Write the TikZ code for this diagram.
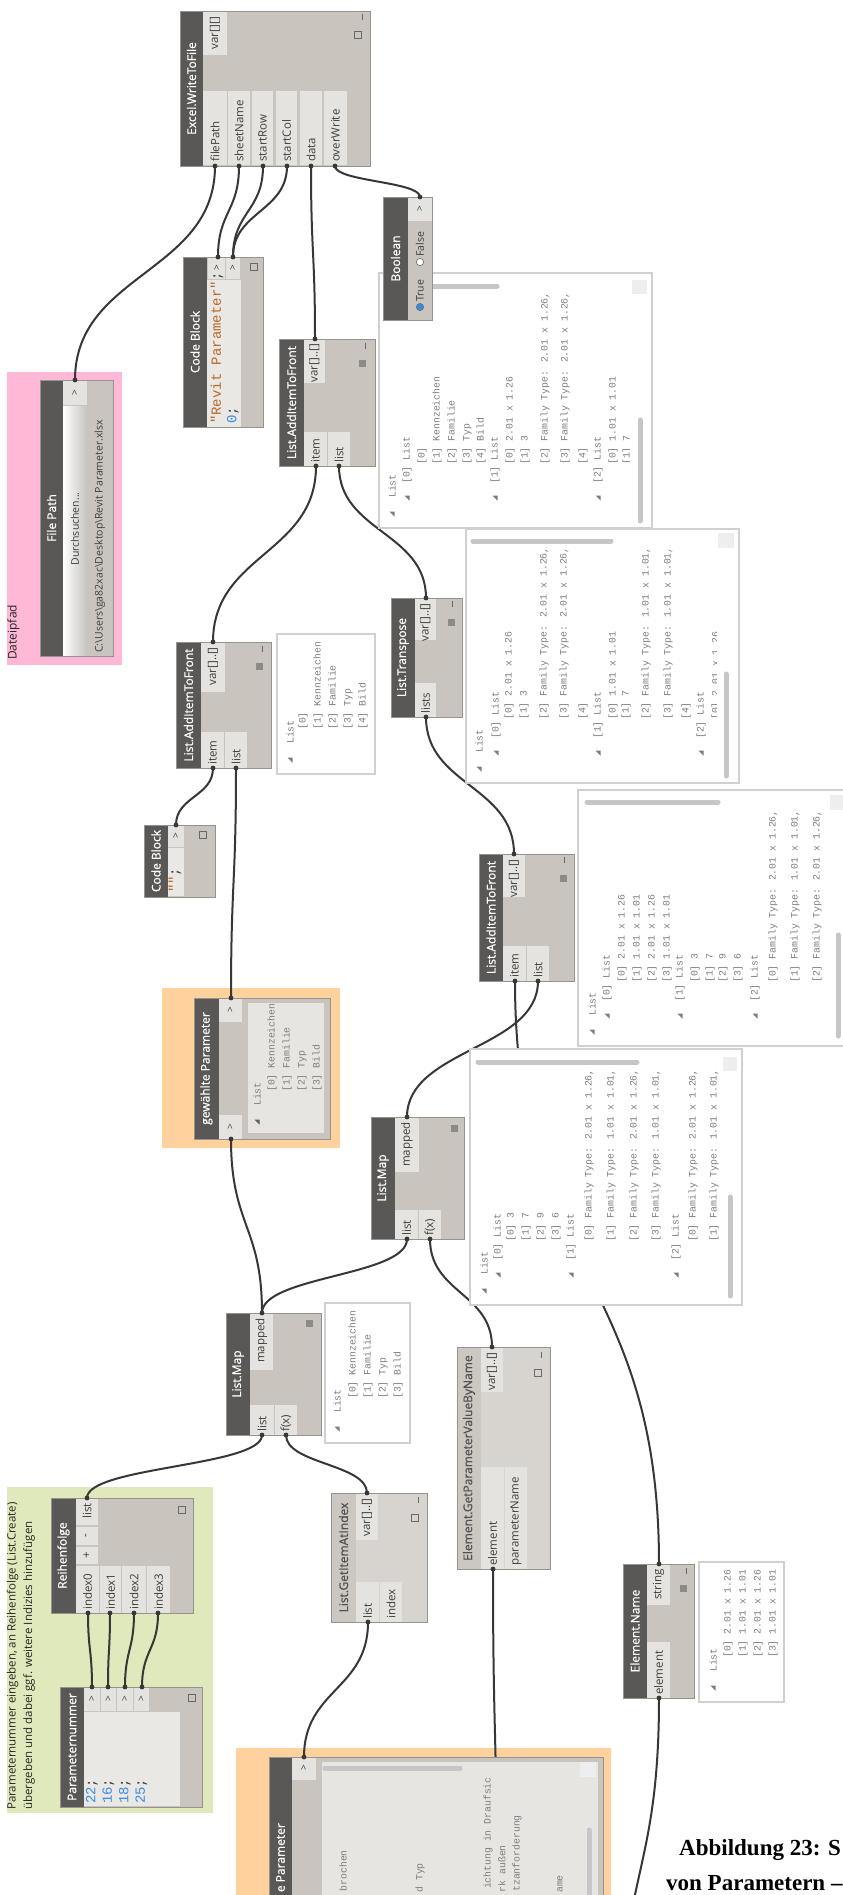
\documentclass[tikz,border=0pt]{standalone}
\usepackage{fontspec}
\setmainfont{Open Sans}
\newfontfamily\titlef[FakeBold=0.6]{Open Sans}
\newfontfamily\monof{Liberation Mono}
\newfontfamily\capf{Liberation Serif}
\usetikzlibrary{calc}

\definecolor{headc}{RGB}{90,88,86}
\definecolor{bodyc}{RGB}{201,197,190}
\definecolor{portc}{RGB}{229,227,223}
\definecolor{codec}{RGB}{234,232,229}
\definecolor{bordc}{RGB}{150,147,142}
\definecolor{lhead}{RGB}{204,200,193}
\definecolor{lbody}{RGB}{215,212,207}
\definecolor{ltext}{RGB}{80,80,80}
\definecolor{labc}{RGB}{62,62,62}
\definecolor{watchc}{RGB}{125,125,125}
\definecolor{inwtext}{RGB}{95,95,95}
\definecolor{bubc}{RGB}{208,208,208}
\definecolor{scrc}{RGB}{198,198,198}
\definecolor{sqlc}{RGB}{238,238,238}
\definecolor{wirec}{RGB}{55,55,55}
\definecolor{icong}{RGB}{105,105,105}
\definecolor{sqfc}{RGB}{140,138,135}
\definecolor{pinkg}{RGB}{255,184,214}
\definecolor{orangeg}{RGB}{255,209,156}
\definecolor{greeng}{RGB}{223,233,187}
\definecolor{inwatch}{RGB}{231,229,226}
\definecolor{strc}{RGB}{186,104,40}
\definecolor{numc}{RGB}{55,140,230}
\definecolor{btnc}{RGB}{198,196,191}

\newcommand\tfont{\titlef\fontsize{12}{14}\selectfont}
\newcommand\pfont{\fontsize{11.5}{13}\selectfont}
\newcommand\wfont{\monof\fontsize{9.8}{11}\selectfont}
\newcommand\cfont{\monof\fontsize{14}{16}\selectfont}

\tikzset{
  nbody/.style={fill=bodyc, inner sep=0, outer sep=0},
  lnbody/.style={fill=lbody, inner sep=0, outer sep=0},
  nborder/.style={draw=bordc, line width=0.9},
  ntitle/.style={rotate=90, text=white, font=\tfont, inner sep=0},
  ltitle/.style={rotate=90, text=ltext, font=\tfont, inner sep=0},
  plabel/.style={rotate=90, text=labc, font=\pfont, inner sep=0},
  wtxt/.style={rotate=90, anchor=west, text=watchc, font=\wfont, inner sep=0},
  ctxt/.style={rotate=90, anchor=west, text=labc, font=\cfont, inner sep=0},
  bubble/.style={fill=white, draw=bubc, line width=1.1},
  wire/.style={draw=wirec, line width=2},
  thumb/.style={draw=scrc, line width=5, line cap=round},
  gtxt/.style={rotate=90, anchor=west, text=black!85, font=\pfont, inner sep=0},
  capt/.style={anchor=base west, inner sep=0, font=\capf\bfseries\fontsize{23}{27}\selectfont},
}

% Dynamo node: name, x1, y1, x2, y2, right edge of the header strip
\newcommand\dnode[6]{%
  \node[nbody, anchor=north west, minimum width={(#4)-(#2)}, minimum height={(#5)-(#3)}] (#1) at (#2,#3) {};
  \fill[headc] (#2,#3) rectangle (#6,#5);}
\newcommand\dnodel[6]{%
  \node[lnbody, anchor=north west, minimum width={(#4)-(#2)}, minimum height={(#5)-(#3)}] (#1) at (#2,#3) {};
  \fill[lhead] (#2,#3) rectangle (#6,#5);}
\newcommand\dend[1]{\draw[nborder] (#1.north west) rectangle (#1.south east);}
\newcommand\pbox[4]{\fill[portc] (#1,#2) rectangle (#3,#4);}
\newcommand\pinl[3]{\node[plabel, anchor=west] at (#1,#2) {#3};}
\newcommand\poutl[3]{\node[plabel, anchor=east] at (#1,#2) {#3};}
\newcommand\pchev[2]{\node[plabel, font=\fontsize{10}{12}\selectfont] at (#1,#2) {>};}
\newcommand\ticon[2]{\draw[icong, line width=1] (#1,#2-3) -- (#1,#2+3);}
\newcommand\sqf[2]{\fill[sqfc] (#1-3.5,#2-3.5) rectangle (#1+3.5,#2+3.5);}
\newcommand\sqo[2]{\draw[icong, line width=0.8] (#1-3.5,#2-3.5) rectangle (#1+3.5,#2+3.5);}
% watch lines and tree expanders
\newcommand\wl[3]{\node[wtxt] at (#1,#2) {#3};}
\newcommand\wx[2]{\fill[watchc] (#1-2.5,#2-2.5) -- (#1+2.5,#2-2.5) -- (#1+2.5,#2+2.5) -- cycle;}
% wire from an output port (below) up to an input port
\newcommand\dwire[2]{\path ($(#1)!0.5!(#2)$) coordinate (wm);
  \draw[wire] (#1) .. controls (#1 |- wm) and (#2 |- wm) .. (#2);}
\newcommand\pdot[1]{\fill[wirec] (#1) circle[radius=2.4pt];}

\begin{document}
\begin{tikzpicture}[x=1pt,y=-1pt]
\useasboundingbox (0,0) rectangle (843,1895);
\begin{scope}
\clip (0,0) rectangle (843,1895);
\fill[white] (0,0) rectangle (843,1895);

% ---------- groups ----------
\fill[pinkg] (7,372) rectangle (122,665);
\node[gtxt, font=\fontsize{12}{14}\selectfont] at (13.5,660) {Dateipfad};
\fill[orangeg] (162,988) rectangle (340,1148);
\fill[greeng] (7,1487) rectangle (213,1813);
\node[gtxt] at (12.5,1810) {Parameternummer eingeben, an Reihenfolge (List.Create)};
\node[gtxt] at (29,1810) {übergeben und dabei ggf. weitere Indizies hinzufügen};
\fill[orangeg] (236,1748) rectangle (611,1900);

% ---------- port coordinates ----------
\coordinate (ex-fp) at (215,166);
\coordinate (ex-sn) at (239,166);
\coordinate (ex-sr) at (263,166);
\coordinate (ex-sc) at (287,166);
\coordinate (ex-da) at (311,166);
\coordinate (ex-ow) at (335,166);
\coordinate (cbr-o1) at (218,257);
\coordinate (cbr-o2) at (233,257);
\coordinate (bool-o) at (420,197);
\coordinate (adda-o) at (315,339);
\coordinate (adda-it) at (316,466);
\coordinate (adda-li) at (339,466);
\coordinate (fpath-o) at (75,380);
\coordinate (addb-o) at (213,642);
\coordinate (addb-it) at (213,768);
\coordinate (addb-li) at (236,768);
\coordinate (cbs-o) at (176,825);
\coordinate (trans-o) at (426,598);
\coordinate (trans-li) at (426,717);
\coordinate (addc-o) at (514,854);
\coordinate (addc-it) at (515,981);
\coordinate (addc-li) at (538,981);
\coordinate (gew-o) at (231,998);
\coordinate (gew-i) at (231,1139);
\coordinate (mapu-o) at (407,1117);
\coordinate (mapu-li) at (407,1239);
\coordinate (mapu-f) at (430,1239);
\coordinate (gpar-o) at (492,1347);
\coordinate (gpar-el) at (493,1569);
\coordinate (mapl-o) at (262,1313);
\coordinate (mapl-li) at (262,1435);
\coordinate (mapl-f) at (286,1435);
\coordinate (reih-o) at (87,1498);
\coordinate (reih-i0) at (88,1613);
\coordinate (reih-i1) at (110,1613);
\coordinate (reih-i2) at (134,1613);
\coordinate (reih-i3) at (158,1613);
\coordinate (pnum-o0) at (92,1687);
\coordinate (pnum-o1) at (108,1687);
\coordinate (pnum-o2) at (125,1687);
\coordinate (pnum-o3) at (142,1687);
\coordinate (gidx-o) at (367,1493);
\coordinate (gidx-li) at (368,1622);
\coordinate (epar-o) at (304,1757);
\coordinate (epar-far) at (497,1900);
\coordinate (ename-o) at (659,1564);
\coordinate (ename-el) at (659,1698);
\coordinate (far-src) at (620,2050);

% ---------- wires ----------
\dwire{fpath-o}{ex-fp}
\dwire{cbr-o1}{ex-sn}
\dwire{cbr-o2}{ex-sr}
\dwire{cbr-o2}{ex-sc}
\dwire{adda-o}{ex-da}
\dwire{bool-o}{ex-ow}
\dwire{addb-o}{adda-it}
\dwire{trans-o}{adda-li}
\dwire{cbs-o}{addb-it}
\dwire{gew-o}{addb-li}
\dwire{addc-o}{trans-li}
\dwire{mapl-o}{gew-i}
\dwire{mapl-o}{mapu-li}
\dwire{mapu-o}{addc-li}
\dwire{ename-o}{addc-it}
\dwire{gpar-o}{mapu-f}
\dwire{reih-o}{mapl-li}
\dwire{gidx-o}{mapl-f}
\dwire{pnum-o0}{reih-i0}
\dwire{pnum-o1}{reih-i1}
\dwire{pnum-o2}{reih-i2}
\dwire{pnum-o3}{reih-i3}
\dwire{epar-o}{gidx-li}
\dwire{epar-far}{gpar-el}
\dwire{far-src}{ename-el}

% ---------- watch bubbles ----------
% AddItemToFront (top)
\draw[bubble] (379,273) rectangle (652,528);
\begin{scope}
\clip (381,275) rectangle (629,526);
\wx{392}{514}\wl{392}{498}{List}
\wx{407}{498}\wl{407}{484}{[0] List}
\wl{422}{465}{[0]}
\wl{437}{465}{[1] Kennzeichen}
\wl{452}{465}{[2] Familie}
\wl{467}{465}{[3] Typ}
\wl{481}{465}{[4] Bild}
\wx{495}{498}\wl{495}{484}{[1] List}
\wl{510}{465}{[0] 2.01 x 1.26}
\wl{525}{465}{[1] 3}
\wl{545}{465}{[2] Family Type: 2.01 x 1.26,}
\wl{565}{465}{[3] Family Type: 2.01 x 1.26,}
\wl{583}{465}{[4]}
\wx{598}{498}\wl{598}{484}{[2] List}
\wl{613}{465}{[0] 1.01 x 1.01}
\wl{627}{465}{[1] 7}
\end{scope}
\draw[thumb] (395,286) -- (497,286);
\draw[thumb] (640,420) -- (640,521);
\fill[sqlc] (632,280) rectangle (647,294);

% AddItemToFront (middle)
\draw[bubble] (277,634) rectangle (375,774);
\wx{290}{760}\wl{290}{744}{List}
\wl{303}{730}{[0]}
\wl{318}{730}{[1] Kennzeichen}
\wl{333}{730}{[2] Familie}
\wl{348}{730}{[3] Typ}
\wl{363}{730}{[4] Bild}

% List.Transpose
\draw[bubble] (466,529) rectangle (739,783);
\begin{scope}
\clip (468,531) rectangle (716,781);
\wx{479}{769}\wl{479}{753}{List}
\wx{496}{753}\wl{496}{739}{[0] List}
\wl{509}{720}{[0] 2.01 x 1.26}
\wl{524}{720}{[1] 3}
\wl{544}{720}{[2] Family Type: 2.01 x 1.26,}
\wl{564}{720}{[3] Family Type: 2.01 x 1.26,}
\wl{583}{720}{[4]}
\wx{598}{753}\wl{598}{739}{[1] List}
\wl{613}{720}{[0] 1.01 x 1.01}
\wl{626}{720}{[1] 7}
\wl{646}{720}{[2] Family Type: 1.01 x 1.01,}
\wl{668}{720}{[3] Family Type: 1.01 x 1.01,}
\wl{686}{720}{[4]}
\wx{701}{753}\wl{701}{739}{[2] List}
\wl{716}{720}{[0] 2.01 x 1.26}
\end{scope}
\draw[thumb] (473,541) -- (611,541);
\draw[thumb] (726,674) -- (726,776);
\fill[sqlc] (718,533) rectangle (734,548);

% AddItemToFront (lower)
\draw[bubble] (578,790) rectangle (850,1046);
\begin{scope}
\clip (580,792) rectangle (843,1044);
\wx{592}{1032}\wl{592}{1016}{List}
\wx{607}{1016}\wl{607}{1002}{[0] List}
\wl{622}{983}{[0] 2.01 x 1.26}
\wl{637}{983}{[1] 1.01 x 1.01}
\wl{652}{983}{[2] 2.01 x 1.26}
\wl{667}{983}{[3] 1.01 x 1.01}
\wx{680}{1016}\wl{680}{1002}{[1] List}
\wl{695}{983}{[0] 3}
\wl{710}{983}{[1] 7}
\wl{723}{983}{[2] 9}
\wl{738}{983}{[3] 6}
\wx{755}{1016}\wl{755}{1002}{[2] List}
\wl{773}{983}{[0] Family Type: 2.01 x 1.26,}
\wl{795}{983}{[1] Family Type: 1.01 x 1.01,}
\wl{817}{983}{[2] Family Type: 2.01 x 1.26,}
\end{scope}
\draw[thumb] (587,802) -- (718,802);
\draw[thumb] (838,935) -- (838,1036);
\fill[sqlc] (830,795) rectangle (845,810);

% List.Map (upper)
\draw[bubble] (470,1049) rectangle (742,1305);
\begin{scope}
\clip (472,1051) rectangle (719,1303);
\wx{484}{1291}\wl{484}{1275}{List}
\wx{498}{1275}\wl{498}{1261}{[0] List}
\wl{511}{1242}{[0] 3}
\wl{526}{1242}{[1] 7}
\wl{541}{1242}{[2] 9}
\wl{556}{1242}{[3] 6}
\wx{571}{1275}\wl{571}{1261}{[1] List}
\wl{589}{1242}{[0] Family Type: 2.01 x 1.26,}
\wl{611}{1242}{[1] Family Type: 1.01 x 1.01,}
\wl{634}{1242}{[2] Family Type: 2.01 x 1.26,}
\wl{656}{1242}{[3] Family Type: 1.01 x 1.01,}
\wx{676}{1275}\wl{676}{1261}{[2] List}
\wl{693}{1242}{[0] Family Type: 2.01 x 1.26,}
\wl{714}{1242}{[1] Family Type: 1.01 x 1.01,}
\end{scope}
\draw[thumb] (478,1062) -- (637,1062);
\draw[thumb] (730,1197) -- (730,1296);
\fill[sqlc] (723,1057) rectangle (737,1071);

% List.Map (lower)
\draw[bubble] (325,1303) rectangle (410,1443);
\wx{337}{1429}\wl{337}{1413}{List}
\wl{353}{1399}{[0] Kennzeichen}
\wl{368}{1399}{[1] Familie}
\wl{383}{1399}{[2] Typ}
\wl{398}{1399}{[3] Bild}

% Element.Name
\draw[bubble] (699,1562) rectangle (784,1702);
\wx{713}{1688}\wl{713}{1672}{List}
\wl{728}{1658}{[0] 2.01 x 1.26}
\wl{743}{1658}{[1] 1.01 x 1.01}
\wl{758}{1658}{[2] 2.01 x 1.26}
\wl{773}{1658}{[3] 1.01 x 1.01}

% ---------- nodes ----------
% Excel.WriteToFile
\dnode{excel}{180}{11}{370}{166}{203}
\node[ntitle] at (191.5,88.5) {Excel.WriteToFile};
\pbox{203}{12}{227}{55}\poutl{215}{17}{var[][]}
\pbox{203}{91}{227}{165}\pinl{215}{162}{filePath}
\pbox{228}{91}{250}{165}\pinl{239}{162}{sheetName}
\pbox{252}{91}{273}{165}\pinl{262.5}{162}{startRow}
\pbox{276}{91}{297}{165}\pinl{286.5}{162}{startCol}
\pbox{300}{91}{322}{165}\pinl{311}{162}{data}
\pbox{324}{91}{347}{165}\pinl{335.5}{162}{overWrite}
\ticon{362}{17}\sqo{358}{35}
\dend{excel}

% Code Block (sheet name, row, column)
\dnode{cbr}{183}{257}{263}{427}{207}
\node[ntitle] at (195,342) {Code Block};
\fill[codec] (207,280) rectangle (241,427);
\pbox{208}{257}{225}{279}\pchev{217}{268}
\pbox{226}{257}{240}{279}\pchev{233}{268}
\node[ctxt] at (217,424) {\textcolor{strc}{"Revit Parameter"};};
\node[ctxt] at (233,424) {\textcolor{numc}{0};};
\sqo{254}{267}
\dend{cbr}

% Boolean
\dnode{bool}{383}{197}{432}{320}{408}
\node[ntitle] at (395.5,258.5) {Boolean};
\pbox{408}{197}{432}{221}\pchev{420}{209}
\filldraw[fill=numc, draw=icong, line width=0.6] (420,307) circle[radius=3.6pt];
\node[plabel, anchor=west, font=\fontsize{10.5}{12}\selectfont] at (420,302) {True};
\filldraw[fill=white, draw=icong, line width=0.6] (420,262) circle[radius=3.6pt];
\node[plabel, anchor=west, font=\fontsize{10.5}{12}\selectfont] at (420,257) {False};
\dend{bool}

% List.AddItemToFront (top)
\dnode{adda}{279}{339}{375}{466}{304}
\node[ntitle] at (291.5,402.5) {List.AddItemToFront};
\pbox{304}{339}{325}{383}\poutl{314.5}{344}{var[]..[]}
\pbox{304}{432}{327}{466}\pinl{315.5}{463}{item}
\pbox{328}{432}{350}{466}\pinl{339}{463}{list}
\ticon{365}{346}\sqf{362}{363}
\dend{adda}

% File Path
\dnode{fpath}{40}{380}{113}{656}{63}
\node[ntitle] at (51.5,518) {File Path};
\pbox{63}{381}{87}{405}\pchev{75}{393}
\shade[left color=white, right color=btnc] (63,406) rectangle (87,655);
\node[plabel, font=\fontsize{10.5}{12}\selectfont] at (75,529) {Durchsuchen...};
\node[plabel, anchor=west, font=\fontsize{10.5}{12}\selectfont] at (100,653)
  {C:\textbackslash Users\textbackslash ga82xac\textbackslash Desktop\textbackslash Revit Parameter.xlsx};
\dend{fpath}

% List.AddItemToFront (middle)
\dnode{addb}{176}{642}{271}{768}{201}
\node[ntitle] at (188.5,705) {List.AddItemToFront};
\pbox{201}{642}{225}{692}\poutl{213}{647}{var[]..[]}
\pbox{201}{732}{224}{768}\pinl{212.5}{765}{item}
\pbox{225}{732}{247}{768}\pinl{236}{765}{list}
\ticon{262}{649}\sqf{259}{666}
\dend{addb}

% Code Block (empty string)
\dnode{cbs}{144}{825}{215}{897}{168}
\node[ntitle] at (156,861) {Code Block};
\pbox{168}{825}{184}{847}\pchev{176}{836}
\fill[codec] (168,848) rectangle (184,896);
\node[ctxt] at (175,893) {\textcolor{strc}{""};};
\sqo{203}{835}
\dend{cbs}

% List.Transpose
\dnode{trans}{391}{598}{462}{717}{415}
\node[ntitle] at (403,657.5) {List.Transpose};
\pbox{415}{598}{436}{640}\poutl{425.5}{603}{var[]..[]}
\pbox{415}{683}{436}{717}\pinl{425.5}{714}{lists}
\ticon{452}{604}\sqf{451}{622}
\dend{trans}

% List.AddItemToFront (lower)
\dnode{addc}{479}{854}{574}{981}{503}
\node[ntitle] at (491,917.5) {List.AddItemToFront};
\pbox{503}{854}{525}{897}\poutl{514}{859}{var[]..[]}
\pbox{503}{946}{526}{981}\pinl{514.5}{978}{item}
\pbox{527}{946}{549}{981}\pinl{538}{978}{list}
\ticon{564}{860}\sqf{563}{878}
\dend{addc}

% gewählte Parameter
\dnode{gew}{194}{998}{330}{1139}{219}
\node[ntitle] at (206.5,1068.5) {gewählte Parameter};
\pbox{219}{998}{242}{1022}\pchev{230.5}{1010}
\pbox{219}{1115}{242}{1139}\pchev{230.5}{1127}
\fill[inwatch] (248,1003) rectangle (324,1133);
\begin{scope}[every node/.append style={text=inwtext}]
\fill[inwtext] (257-2.5,1122-2.5) -- (257+2.5,1122-2.5) -- (257+2.5,1122+2.5) -- cycle;
\wl{257}{1106}{List}
\wl{272}{1092}{[0] Kennzeichen}
\wl{287}{1092}{[1] Familie}
\wl{302}{1092}{[2] Typ}
\wl{317}{1092}{[3] Bild}
\end{scope}
\dend{gew}

% List.Map (upper)
\dnode{mapu}{371}{1117}{464}{1239}{395}
\node[ntitle] at (383,1178) {List.Map};
\pbox{395}{1117}{419}{1172}\poutl{407}{1122}{mapped}
\pbox{395}{1210}{418}{1239}\pinl{406.5}{1236}{list}
\pbox{419}{1210}{441}{1239}\pinl{430}{1236}{f(x)}
\sqf{454}{1128}
\dend{mapu}

% Element.GetParameterValueByName
\dnodel{gpar}{457}{1347}{550}{1569}{481}
\node[ltitle] at (469,1458) {Element.GetParameterValueByName};
\pbox{481}{1347}{503}{1392}\poutl{492}{1352}{var[]..[]}
\pbox{481}{1467}{504}{1569}\pinl{492.5}{1566}{element}
\pbox{505}{1467}{527}{1569}\pinl{516}{1566}{parameterName}
\ticon{541}{1355}\sqo{538}{1373}
\dend{gpar}

% List.Map (lower)
\dnode{mapl}{226}{1313}{321}{1435}{250}
\node[ntitle] at (238,1374) {List.Map};
\pbox{250}{1313}{273}{1370}\poutl{261.5}{1318}{mapped}
\pbox{250}{1405}{274}{1435}\pinl{262}{1432}{list}
\pbox{275}{1405}{297}{1435}\pinl{286}{1432}{f(x)}
\sqf{309}{1323}
\dend{mapl}

% Reihenfolge
\dnode{reih}{51}{1498}{193}{1613}{76}
\node[ntitle] at (63.5,1555.5) {Reihenfolge};
\pbox{76}{1498}{98}{1525}\poutl{87}{1503}{list}
\pbox{76}{1527}{98}{1545}\node[plabel] at (87,1536) {-};
\pbox{76}{1547}{98}{1564}\node[plabel] at (87,1555.5) {+};
\pbox{76}{1566}{99}{1613}\pinl{87.5}{1610}{index0}
\pbox{100}{1566}{121}{1613}\pinl{110.5}{1610}{index1}
\pbox{122}{1566}{146}{1613}\pinl{134}{1610}{index2}
\pbox{147}{1566}{170}{1613}\pinl{158.5}{1610}{index3}
\sqo{182}{1510}
\dend{reih}

% Parameternummer
\dnode{pnum}{60}{1687}{202}{1807}{84}
\node[ntitle] at (72,1747) {Parameternummer};
\pbox{84}{1687}{100}{1711}\pchev{92}{1699}
\pbox{101}{1687}{116}{1711}\pchev{108.5}{1699}
\pbox{117}{1687}{133}{1711}\pchev{125}{1699}
\pbox{134}{1687}{149}{1711}\pchev{141.5}{1699}
\fill[codec] (84,1712) rectangle (180,1806);
\node[ctxt] at (92,1804) {\textcolor{numc}{22};};
\node[ctxt] at (108.5,1804) {\textcolor{numc}{16};};
\node[ctxt] at (125,1804) {\textcolor{numc}{18};};
\node[ctxt] at (141.5,1804) {\textcolor{numc}{25};};
\sqo{192}{1698}
\dend{pnum}

% List.GetItemAtIndex
\dnodel{gidx}{331}{1493}{427}{1622}{356}
\node[ltitle] at (343.5,1557.5) {List.GetItemAtIndex};
\pbox{356}{1493}{378}{1540}\poutl{367}{1498}{var[]..[]}
\pbox{356}{1582}{379}{1622}\pinl{367.5}{1619}{list}
\pbox{380}{1582}{402}{1622}\pinl{391}{1619}{index}
\ticon{418}{1500}\sqo{415}{1518}
\dend{gidx}

% parameter list at the bottom
\dnode{epar}{269}{1757}{603}{1900}{292}
\node[ntitle, anchor=east] at (280.5,1823) {e Parameter};
\pbox{292}{1757}{316}{1780}\pchev{304}{1768}
\fill[inwatch] (322,1762) rectangle (598,1900);
\begin{scope}[every node/.append style={text=inwtext}]
\clip (322,1775) rectangle (586,1900);
\node[wtxt, anchor=east] at (343,1850) {brochen};
\node[wtxt, anchor=east] at (420,1863) {d Typ};
\node[wtxt, anchor=east] at (488,1777) {ichtung in Draufsic};
\node[wtxt, anchor=east] at (502,1845) {rk außen};
\node[wtxt, anchor=east] at (517,1815) {tzanforderung};
\node[wtxt, anchor=east] at (560,1875) {ame};
\end{scope}
\draw[thumb] (325,1768) -- (460,1768);
\fill[sqlc] (580,1762) rectangle (596,1777);
\draw[thumb] (589,1830) -- (589,1905);
\dend{epar}

% Element.Name
\dnode{ename}{623}{1564}{694}{1698}{647}
\node[ntitle] at (635,1631) {Element.Name};
\pbox{647}{1564}{670}{1605}\poutl{658.5}{1569}{string}
\pbox{647}{1642}{670}{1698}\pinl{658.5}{1695}{element}
\ticon{686}{1571}\sqf{683}{1588}
\dend{ename}

% ---------- port markers ----------
\foreach \p in {ex-fp,ex-sn,ex-sr,ex-sc,ex-da,ex-ow,cbr-o1,cbr-o2,bool-o,adda-o,adda-it,adda-li,
  fpath-o,addb-o,addb-it,addb-li,cbs-o,trans-o,trans-li,addc-o,addc-it,addc-li,gew-o,gew-i,
  mapu-o,mapu-li,mapu-f,gpar-o,gpar-el,mapl-o,mapl-li,mapl-f,reih-o,reih-i0,reih-i1,reih-i2,reih-i3,
  pnum-o0,pnum-o1,pnum-o2,pnum-o3,gidx-o,gidx-li,epar-o,ename-o,ename-el}{\pdot{\p}}

% ---------- caption ----------
\node[capt] at (679,1855) {Abbildung 23: S};
\node[capt] at (666,1890) {von Parametern –};
\end{scope}
\end{tikzpicture}
\end{document}
